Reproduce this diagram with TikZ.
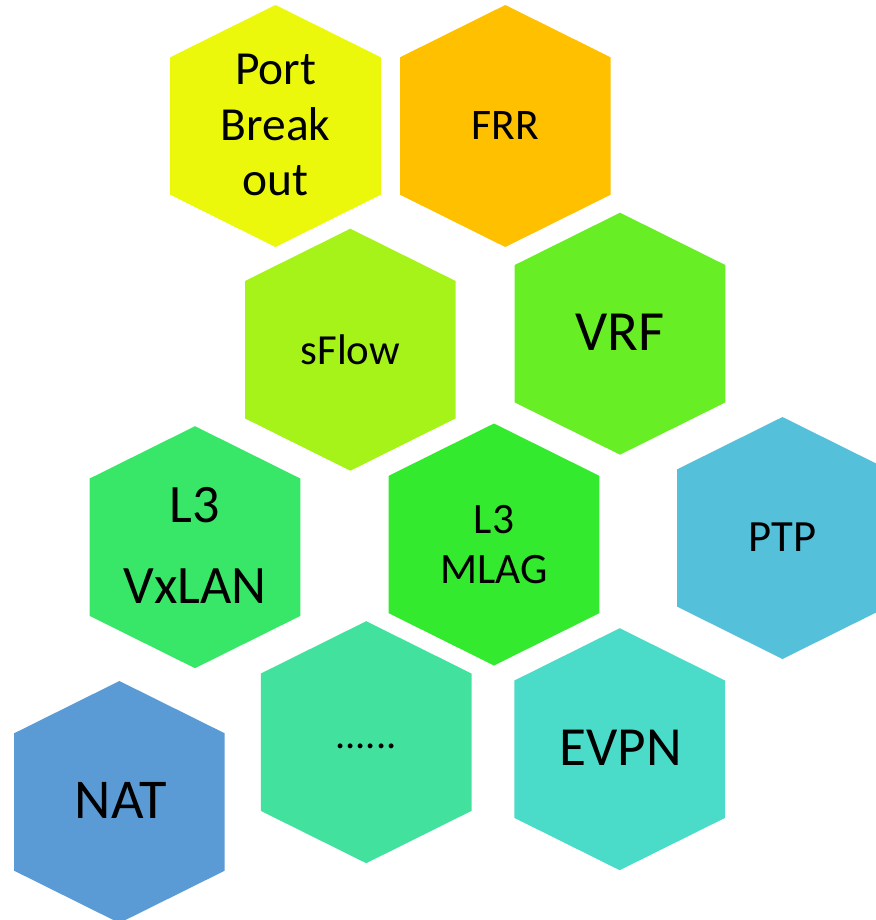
\documentclass[tikz,border=0pt]{standalone}
\usepackage{fontspec}
\setmainfont{Carlito}
\usetikzlibrary{calc}

\definecolor{portyellow}{RGB}{235,248,12}
\definecolor{frrorange}{RGB}{255,192,0}
\definecolor{sflowlime}{RGB}{165,243,24}
\definecolor{vrfgreen}{RGB}{104,238,36}
\definecolor{vxlangreen}{RGB}{56,230,104}
\definecolor{mlaggreen}{RGB}{52,234,46}
\definecolor{ptpblue}{RGB}{84,192,218}
\definecolor{moremint}{RGB}{66,226,158}
\definecolor{evpnteal}{RGB}{74,220,200}
\definecolor{natblue}{RGB}{91,155,213}

\tikzset{
  hexlabel/.style={inner sep=0pt, align=center, text=black},
}

\begin{document}
\begin{tikzpicture}[x=0.02cm, y=-0.02cm]
  % Parameters
  \pgfmathsetmacro{\hw}{105.3} % half width
  \pgfmathsetmacro{\hh}{121}   % half height
  \pgfmathsetmacro{\hs}{68.7}  % height of the shoulders

  \useasboundingbox (0,0) rectangle (876,920);

  % Hexagons
  \foreach \cx/\cy/\col in {275.5/126/portyellow, 505.3/126/frrorange,
      350.3/349.7/sflowlime, 620/333.7/vrfgreen, 195/547.2/vxlangreen,
      494/544.5/mlaggreen, 782.5/538/ptpblue, 366.2/742.2/moremint,
      619.7/749.2/evpnteal, 119.4/802/natblue}
    \fill[\col] (\cx,{\cy-\hh}) -- ({\cx+\hw},{\cy-\hs}) -- ({\cx+\hw},{\cy+\hs})
      -- (\cx,{\cy+\hh}) -- ({\cx-\hw},{\cy+\hs}) -- ({\cx-\hw},{\cy-\hs}) -- cycle;

  % Labels
  \node[hexlabel, font=\fontsize{27}{31.7}\selectfont] (port) at (275.5,125) {Port\\Break\\out};
  \node[hexlabel, font=\fontsize{24.8}{30}\selectfont] (frr) at (505.3,125.5) {FRR};
  \node[hexlabel, font=\fontsize{24.4}{29}\selectfont] (sflow) at (350.3,349.5) {sFlow};
  \node[hexlabel, font=\fontsize{32.3}{38}\selectfont] (vrf) at (620,332) {VRF};
  \node[hexlabel, font=\fontsize{30.8}{46}\selectfont] (vxlan) at (195,545.3) {L3\\VxLAN};
  \node[hexlabel, font=\fontsize{24.7}{28.3}\selectfont] (mlag) at (494,544.7) {L3\\MLAG};
  \node[hexlabel, font=\fontsize{25.4}{30}\selectfont] (ptp) at (782.5,537.5) {PTP};
  \node[hexlabel, font=\fontsize{23}{28}\selectfont, text height=0.63em, text depth=0pt] (more) at (366,742.5) {......};
  \node[hexlabel, font=\fontsize{31.4}{38}\selectfont] (evpn) at (620.6,747.5) {EVPN};
  \node[hexlabel, font=\fontsize{32}{38}\selectfont] (nat) at (120.8,800.5) {NAT};
\end{tikzpicture}
\end{document}
